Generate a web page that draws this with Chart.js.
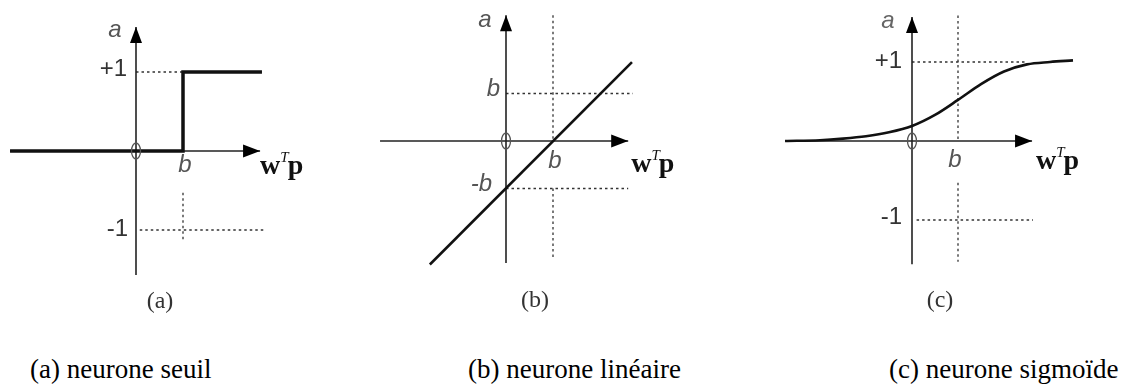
<!DOCTYPE html>
<html>
<head>
<meta charset="utf-8">
<script src="https://cdn.jsdelivr.net/npm/chart.js@4.4.1/dist/chart.umd.min.js"></script>
<style>
  html, body { margin: 0; padding: 0; background: #fff; }
  body { width: 1129px; height: 392px; position: relative; overflow: hidden; }
  canvas { position: absolute; }
  .tag { position: absolute; font-family: 'Liberation Serif', serif; font-size: 24px; color: #333;
         transform: translate(-50%, -50%); white-space: nowrap; }
  .caption { position: absolute; font-family: 'Liberation Serif', serif; font-size: 27px; color: #000;
             white-space: nowrap; line-height: 1; }
</style>
</head>
<body>
<canvas id="chartSeuil" width="330" height="290" style="left:0;top:0"></canvas>
<canvas id="chartLineaire" width="330" height="290" style="left:360px;top:0"></canvas>
<canvas id="chartSigmoide" width="369" height="290" style="left:760px;top:0"></canvas>

<div class="tag" style="left:160px;top:300px">(a)</div>
<div class="tag" style="left:535px;top:299px">(b)</div>
<div class="tag" style="left:940px;top:299px">(c)</div>

<div class="caption" style="left:30px;top:356px">(a) neurone seuil</div>
<div class="caption" style="left:468px;top:356px">(b) neurone linéaire</div>
<div class="caption" style="left:889px;top:356px">(c) neurone sigmoïde</div>

<script>
// (a) neurone seuil : fonction échelon
const seuilX = [-2.68, 1, 1, 2.68];
const seuilY = [0, 0, 1, 1];
const seuilAxisX = [-2.68, 2.64];
const seuilAxisY = [-1.57, 1.57];
const seuilGuides = [[0, 1, 1, 1], [0.08, -1, 2.74, -1], [1, -0.53, 1, -1.13]];

// (b) neurone linéaire : a = wTp - b
const lineaireX = [-1.62, 2.68];
const lineaireY = [-2.6, 1.66];
const lineaireAxisX = [-2.68, 2.6];
const lineaireAxisY = [-2.57, 2.65];
const lineaireGuides = [[0, 1, 2.7, 1], [0, -1, 2.6, -1], [1, 2.65, 1, 0], [1, -1, 1, -2.5]];

// (c) neurone sigmoïde
const sigmoideX = [-2.76, -2, -1.5, -1, -0.5, 0, 0.5, 1, 1.5, 2, 2.5, 3, 3.5];
const sigmoideY = [0, 0.01, 0.03, 0.06, 0.11, 0.19, 0.33, 0.52, 0.72, 0.88, 0.97, 1.0, 1.02];
const sigmoideAxisX = [-2.76, 2.61];
const sigmoideAxisY = [-1.56, 1.57];
const sigmoideGuides = [[0, 1, 2.5, 1], [0.1, -1, 2.63, -1], [1, 1.59, 1, 0], [1, -0.53, 1, -1.53]];

const SANS = '"Liberation Sans", Arial, sans-serif';
const SERIF = '"Liberation Serif", "Times New Roman", serif';

const toPoints = (xs, ys) => xs.map((x, i) => ({ x, y: ys[i] }));

const annotate = {
  id: 'annotate',
  afterDatasetsDraw(chart, args, opts) {
    const { ctx } = chart;
    const sx = chart.scales.x;
    const sy = chart.scales.y;
    const ox = sx.getPixelForValue(0);
    const oy = sy.getPixelForValue(0);
    ctx.save();

    // flèches des axes
    ctx.fillStyle = '#000';
    const tipX = sx.getPixelForValue(opts.axisX[1]);
    ctx.beginPath();
    ctx.moveTo(tipX, oy);
    ctx.lineTo(tipX - 17, oy - 6.5);
    ctx.lineTo(tipX - 17, oy + 6.5);
    ctx.closePath();
    ctx.fill();
    const tipY = sy.getPixelForValue(opts.axisY[1]);
    ctx.beginPath();
    ctx.moveTo(ox, tipY);
    ctx.lineTo(ox - 6, tipY + 16);
    ctx.lineTo(ox + 6, tipY + 16);
    ctx.closePath();
    ctx.fill();

    // le « 0 » à l'origine
    ctx.strokeStyle = '#555';
    ctx.lineWidth = 1.3;
    ctx.beginPath();
    ctx.ellipse(ox, oy, 4.5, 8, 0, 0, Math.PI * 2);
    ctx.stroke();

    // étiquettes
    ctx.textBaseline = 'middle';
    opts.labels.forEach((l) => {
      ctx.font = l.font;
      ctx.fillStyle = l.color || '#333';
      ctx.textAlign = l.align || 'center';
      ctx.fillText(l.text, sx.getPixelForValue(l.at[0]) + l.dx, sy.getPixelForValue(l.at[1]) + l.dy);
    });

    // w^T p
    ctx.textAlign = 'left';
    ctx.textBaseline = 'alphabetic';
    ctx.fillStyle = '#111';
    let px = tipX + opts.wtp.dx;
    const base = oy + opts.wtp.dy;
    ctx.font = 'bold 28px ' + SERIF;
    ctx.fillText('w', px, base);
    px += ctx.measureText('w').width;
    ctx.font = 'italic 15px ' + SERIF;
    ctx.fillText('T', px, base - 12);
    px += ctx.measureText('T').width - 1;
    ctx.font = 'bold 28px ' + SERIF;
    ctx.fillText('p', px, base);

    ctx.restore();
  },
};

function renderPanel(canvasId, panel) {
  const canvas = document.getElementById(canvasId);
  const { box, origin, unit } = panel;

  const guideSets = panel.guides.map(([x1, y1, x2, y2]) => ({
    data: [{ x: x1, y: y1 }, { x: x2, y: y2 }],
    borderColor: '#333',
    borderWidth: 1.3,
    borderDash: [2.5, 3],
    order: 2,
  }));

  const datasets = [
    {
      data: panel.curve,
      borderColor: '#111',
      borderWidth: panel.curveWidth,
      cubicInterpolationMode: panel.smooth ? 'monotone' : 'default',
      borderJoinStyle: 'miter',
      order: 0,
    },
    { data: [{ x: panel.axisX[0], y: 0 }, { x: panel.axisX[1], y: 0 }], borderColor: '#222', borderWidth: 1.6, order: 1 },
    { data: [{ x: 0, y: panel.axisY[0] }, { x: 0, y: panel.axisY[1] }], borderColor: '#222', borderWidth: 1.6, order: 1 },
    ...guideSets,
  ].map((d) => ({ showLine: true, pointRadius: 0, clip: false, ...d }));

  new Chart(canvas.getContext('2d'), {
    type: 'scatter',
    data: { datasets },
    plugins: [annotate],
    options: {
      responsive: false,
      animation: false,
      events: [],
      layout: { padding: 0 },
      scales: {
        x: {
          type: 'linear',
          display: false,
          min: (box.left - origin.x) / unit.x,
          max: (box.left + box.width - origin.x) / unit.x,
        },
        y: {
          type: 'linear',
          display: false,
          min: (origin.y - box.top - box.height) / unit.y,
          max: (origin.y - box.top) / unit.y,
        },
      },
      plugins: {
        legend: { display: false },
        tooltip: { enabled: false },
        annotate: {
          axisX: panel.axisX,
          axisY: panel.axisY,
          labels: panel.labels,
          wtp: panel.wtp,
        },
      },
    },
  });
}

const italicSans = 'italic 24px ' + SANS;
const plainSans = '24px ' + SANS;

renderPanel('chartSeuil', {
  box: { left: 0, top: 0, width: 330, height: 290 },
  origin: { x: 136, y: 151 },
  unit: { x: 47, y: 79 },
  curve: toPoints(seuilX, seuilY),
  curveWidth: 3.5,
  smooth: false,
  axisX: seuilAxisX,
  axisY: seuilAxisY,
  guides: seuilGuides,
  labels: [
    { text: 'a', at: [0, seuilAxisY[1]], dx: -21, dy: 3, font: italicSans, color: '#555' },
    { text: '+1', at: [0, 1], dx: -9, dy: -3, font: plainSans, align: 'right' },
    { text: '-1', at: [0, -1], dx: -8, dy: -1, font: plainSans, align: 'right' },
    { text: 'b', at: [1, 0], dx: 2, dy: 14, font: italicSans, color: '#555' },
  ],
  wtp: { dx: 0, dy: 23 },
});

renderPanel('chartLineaire', {
  box: { left: 360, top: 0, width: 330, height: 290 },
  origin: { x: 506, y: 141 },
  unit: { x: 47, y: 47.5 },
  curve: toPoints(lineaireX, lineaireY),
  curveWidth: 2.6,
  smooth: false,
  axisX: lineaireAxisX,
  axisY: lineaireAxisY,
  guides: lineaireGuides,
  labels: [
    { text: 'a', at: [0, lineaireAxisY[1]], dx: -21, dy: 5, font: italicSans, color: '#555' },
    { text: 'b', at: [0, 1], dx: -6, dy: -4, font: italicSans, align: 'right', color: '#555' },
    { text: '-b', at: [0, -1], dx: -14, dy: -4, font: italicSans, align: 'right', color: '#555' },
    { text: 'b', at: [1, 0], dx: 2, dy: 20, font: italicSans, color: '#555' },
  ],
  wtp: { dx: 3, dy: 31 },
});

renderPanel('chartSigmoide', {
  box: { left: 760, top: 0, width: 369, height: 290 },
  origin: { x: 912, y: 141 },
  unit: { x: 46, y: 79 },
  curve: toPoints(sigmoideX, sigmoideY),
  curveWidth: 2.6,
  smooth: true,
  axisX: sigmoideAxisX,
  axisY: sigmoideAxisY,
  guides: sigmoideGuides,
  labels: [
    { text: 'a', at: [0, sigmoideAxisY[1]], dx: -24, dy: 4, font: italicSans, color: '#666' },
    { text: '+1', at: [0, 1], dx: -10, dy: -1, font: plainSans, align: 'right' },
    { text: '-1', at: [0, -1], dx: -10, dy: -3, font: plainSans, align: 'right' },
    { text: 'b', at: [1, 0], dx: -3, dy: 19, font: italicSans, color: '#555' },
  ],
  wtp: { dx: 4, dy: 28 },
});
</script>
</body>
</html>
